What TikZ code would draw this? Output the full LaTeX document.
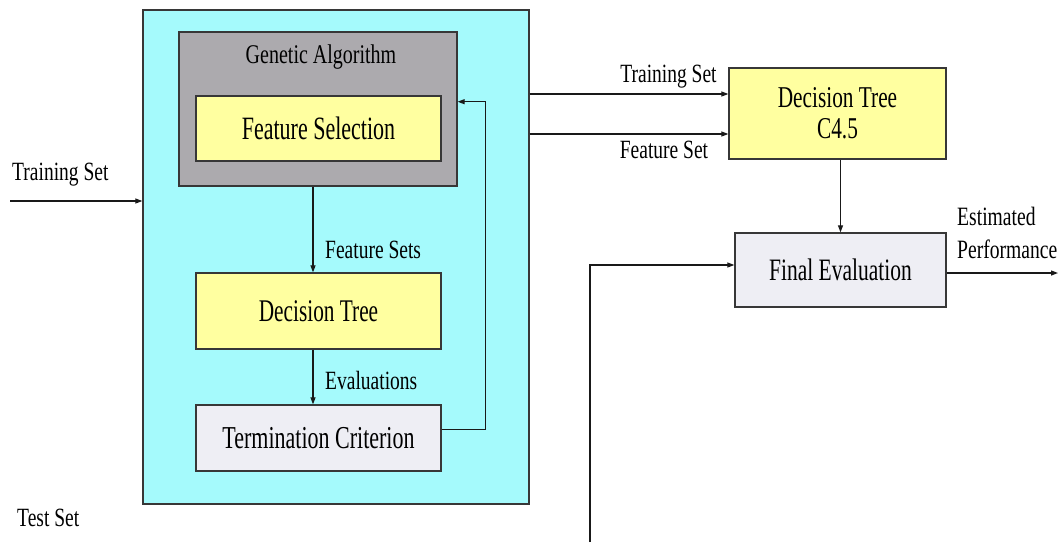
\documentclass[tikz,border=0pt]{standalone}
\usepackage{graphicx}
\usepackage{fontspec}
\setmainfont{Liberation Serif}
\usetikzlibrary{arrows.meta,calc}

\definecolor{panelfill}{RGB}{165,250,252}
\definecolor{gafill}{RGB}{172,170,174}
\definecolor{stepfill}{RGB}{255,255,160}
\definecolor{evalfill}{RGB}{238,238,244}
\definecolor{edge}{RGB}{55,55,55}

% tall, narrow lettering: size, vertical stretch, text
\newcommand\tallt[3][1.35]{{\fontsize{#2}{#2}\selectfont\scalebox{1}[#1]{#3}}}

\tikzset{
  box/.style={draw=edge, line width=1.3pt, inner sep=0pt, anchor=center},
  arr/.style={draw=black!90, line width=1.2pt, -{Triangle[length=7pt,width=5pt]}},
  lbl/.style={inner sep=0pt, text=black}
}

\begin{document}
\begin{tikzpicture}[x=1pt,y=-1pt]
\useasboundingbox[fill=white] (0,0) rectangle (1062,542);

% genetic algorithm panel
\node[box, fill=panelfill, minimum width=386pt, minimum height=494pt] (panel) at (336,257) {};
\node[box, fill=gafill, minimum width=278pt, minimum height=154pt] (ga) at (318,109) {};
\node[lbl] (ga-title) at (321,57) {\tallt{20}{Genetic Algorithm}};
\node[box, fill=stepfill, minimum width=245pt, minimum height=65pt] (fs) at (318.5,128.5) {\tallt[1.48]{22}{Feature Selection}};
\node[box, fill=stepfill, minimum width=245pt, minimum height=76pt] (dt) at (318.5,311) {\tallt[1.48]{21.3}{Decision Tree}};
\node[box, fill=evalfill, minimum width=245pt, minimum height=66pt] (tc) at (318.5,438) {\tallt[1.45]{22}{Termination Criterion}};

% inner flow
\coordinate (vx) at (313,0);
\draw[arr] (ga.south -| vx) -- (dt.north -| vx);
\draw[arr] (dt.south -| vx) -- (tc.north -| vx);
\node[lbl, anchor=west] (fsets) at (325,250) {\tallt{19.5}{Feature Sets}};
\node[lbl, anchor=west] (evals) at (325,380) {\tallt{19.5}{Evaluations}};

% feedback loop
\coordinate (fb-join) at (0,429.3);
\coordinate (fb-top) at (485.5,101.7);
\draw[arr] (tc.east |- fb-join) -- (fb-join -| fb-top) -- (fb-top) -- (fb-top -| ga.east);

% training set input
\coordinate (ts-start) at (10,201);
\draw[arr] (ts-start) -- (ts-start -| panel.west);
\node[lbl, anchor=west] (ts-lbl) at (12,175) {\tallt{19.5}{Training Set}};
\node[lbl, anchor=west] (test-lbl) at (17,518) {\tallt{19.5}{Test Set}};

% final classifier
\node[box, fill=stepfill, minimum width=217pt, minimum height=91pt, align=center,
      font=\fontsize{21.3}{31}\selectfont] (dtc) at (837.5,113.5)
      {\scalebox{1}[1.42]{Decision Tree}\\\scalebox{1}[1.42]{C4.5}};
\node[box, fill=evalfill, minimum width=211pt, minimum height=74pt] (fe) at (840.5,270) {\tallt[1.45]{21.5}{Final Evaluation}};

\coordinate (r1) at (0,94);
\coordinate (r2) at (0,134);
\draw[arr] (panel.east |- r1) -- (dtc.west |- r1);
\draw[arr] (panel.east |- r2) -- (dtc.west |- r2);
\node[lbl] (tr-lbl) at (668.5,77) {\tallt{19.5}{Training Set}};
\node[lbl] (fset-lbl) at (664,150) {\tallt{19.5}{Feature Set}};

\draw[arr] (dtc.south -| fe.north) -- (fe.north);

\coordinate (out) at (1058,273);
\draw[arr] (fe.east |- out) -- (out);
\node[lbl, anchor=west, align=left, font=\fontsize{19.6}{33}\selectfont] (perf) at (957,233)
      {\scalebox{1}[1.35]{Estimated}\\\scalebox{1}[1.35]{Performance}};

\coordinate (test-in) at (590,542);
\coordinate (fe-in) at (0,265);
\draw[arr] (test-in) |- (fe.west |- fe-in);
\end{tikzpicture}
\end{document}
